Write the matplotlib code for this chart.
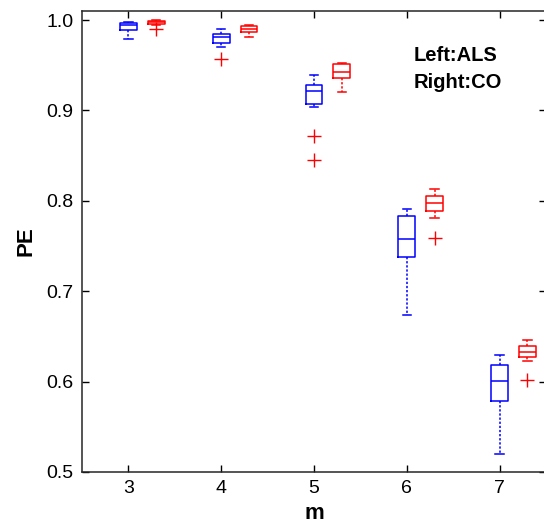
import matplotlib
matplotlib.use("Agg")
import matplotlib.pyplot as plt

plt.rcParams["font.family"] = ["Liberation Sans", "DejaVu Sans"]

m_values = [3, 4, 5, 6, 7]

# ALS (left, blue): whisker low, q1, median, q3, whisker high, outliers
als_whislo = [0.9794, 0.9706, 0.904, 0.6736, 0.5198]
als_q1 = [0.9894, 0.975, 0.907, 0.7383, 0.578]
als_med = [0.995, 0.9817, 0.9217, 0.7576, 0.6002]
als_q3 = [0.997, 0.985, 0.928, 0.7828, 0.618]
als_whishi = [0.998, 0.9906, 0.9394, 0.7914, 0.6298]
als_fliers = [[], [0.957], [0.8717, 0.8447], [], []]

# CO (right, red)
co_whislo = [0.994, 0.981, 0.920, 0.7808, 0.6224]
co_q1 = [0.996, 0.987, 0.9358, 0.789, 0.6272]
co_med = [0.998, 0.9906, 0.943, 0.7976, 0.6328]
co_q3 = [0.999, 0.993, 0.9513, 0.805, 0.6394]
co_whishi = [0.9995, 0.994, 0.953, 0.8136, 0.6458]
co_fliers = [[0.9906], [], [], [0.7586], [0.602]]


def make_stats(lo, q1, med, q3, hi, fl):
    return [dict(whislo=a, q1=b, med=c, q3=d, whishi=e, fliers=f)
            for a, b, c, d, e, f in zip(lo, q1, med, q3, hi, fl)]


fig = plt.figure(figsize=(5.44, 5.26), dpi=100)
ax = fig.add_axes([82 / 544, 1 - 472 / 526, 464 / 544, 461 / 526])

groups = [
    (make_stats(als_whislo, als_q1, als_med, als_q3, als_whishi, als_fliers), 0.0, "blue"),
    (make_stats(co_whislo, co_q1, co_med, co_q3, co_whishi, co_fliers), 0.3, "red"),
]
for stats, offset, color in groups:
    ax.bxp(
        stats,
        positions=[m + offset for m in m_values],
        widths=0.18,
        showfliers=True,
        boxprops=dict(color=color, linewidth=1.1),
        medianprops=dict(color=color, linewidth=1.1),
        whiskerprops=dict(color=color, linewidth=1.1, linestyle=(0, (1.5, 1.2))),
        capprops=dict(color=color, linewidth=1.1),
        capwidths=0.09,
        flierprops=dict(marker="+", markeredgecolor="red", markersize=10,
                        markeredgewidth=1.0, linestyle="none"),
        manage_ticks=False,
    )

ax.set_xlim(2.5, 7.5)
ax.set_ylim(0.5, 1.01)
ax.set_xticks(m_values)
ax.set_xticklabels([str(m) for m in m_values])
ax.set_yticks([0.5, 0.6, 0.7, 0.8, 0.9, 1.0])
ax.set_yticklabels(["0.5", "0.6", "0.7", "0.8", "0.9", "1.0"])
ax.tick_params(direction="in", top=True, right=True, length=5, width=1,
               labelsize=14, pad=6)
for sp in ax.spines.values():
    sp.set_linewidth(1.1)
    sp.set_color("#262626")

ax.set_xlabel("m", fontsize=16, fontweight="bold", labelpad=4)
ax.set_ylabel("PE", fontsize=16, fontweight="bold", labelpad=7)

ax.text(0.715, 0.925, "Left:ALS\nRight:CO", transform=ax.transAxes,
        fontsize=14.5, fontweight="bold", va="top", ha="left", linespacing=1.55)

fig.savefig("out.png", dpi=100)
